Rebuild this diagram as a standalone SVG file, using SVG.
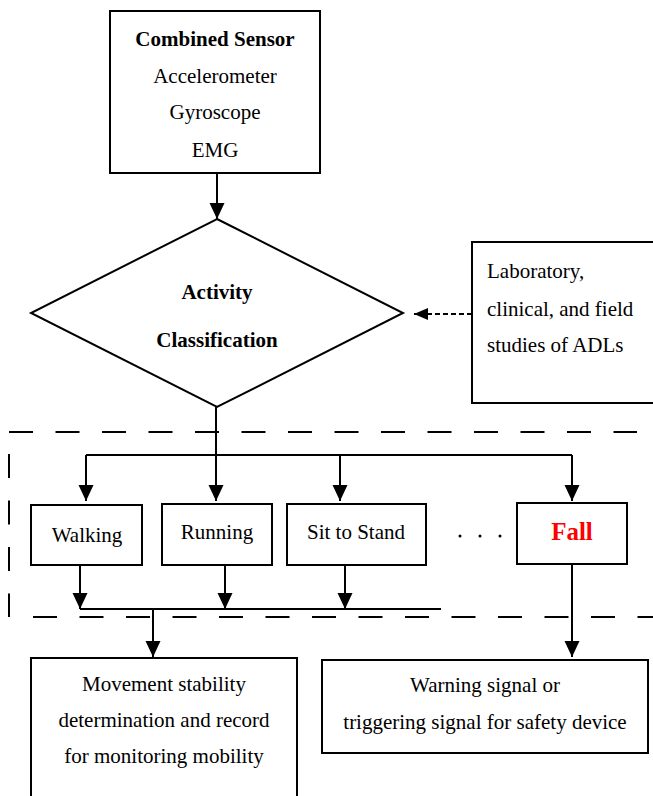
<svg xmlns="http://www.w3.org/2000/svg" width="653" height="796" viewBox="0 0 653 796">
<style>
  .box{fill:#fff;stroke:#000;stroke-width:2}
  .t{font-family:"Liberation Serif","Times New Roman",serif;font-size:21px;fill:#000}
  .c{text-anchor:middle}
  .b{font-weight:bold}
  .ln{fill:none;stroke:#000;stroke-width:2}
  .dash{fill:none;stroke:#000;stroke-width:2;stroke-dasharray:24 22.5}
</style>
<defs>
  <marker id="arr" viewBox="0 0 16 16" refX="16" refY="8" markerWidth="16" markerHeight="16" markerUnits="userSpaceOnUse" orient="auto">
    <path d="M0,0.5 L16,8 L0,15.5 Z" fill="#000"/>
  </marker>
  <marker id="arrs" viewBox="0 0 14 14" refX="14" refY="7" markerWidth="14" markerHeight="14" markerUnits="userSpaceOnUse" orient="auto">
    <path d="M0,1 L14,7 L0,13 Z" fill="#000"/>
  </marker>
</defs>
<rect width="653" height="796" fill="#fff"/>

<g id="boundary">
  <path class="dash" d="M9,432 H637"/>
  <path class="dash" d="M9,454 V617"/>
  <path class="dash" d="M33,617 H653"/>
</g>

<g id="connectors">
  <path class="ln" d="M217,173 V219" marker-end="url(#arr)"/>
  <path class="ln" d="M472,314 H414" stroke-dasharray="5 3" marker-end="url(#arrs)"/>
  <path class="ln" d="M216,407 V455"/>
  <path class="ln" d="M86,455 H572"/>
  <path class="ln" d="M86,455 V501" marker-end="url(#arr)"/>
  <path class="ln" d="M216,455 V501" marker-end="url(#arr)"/>
  <path class="ln" d="M340,455 V501" marker-end="url(#arr)"/>
  <path class="ln" d="M572,455 V501" marker-end="url(#arr)"/>
  <path class="ln" d="M80,565 V609" marker-end="url(#arr)"/>
  <path class="ln" d="M225,565 V609" marker-end="url(#arr)"/>
  <path class="ln" d="M345,565 V609" marker-end="url(#arr)"/>
  <path class="ln" d="M80,609 H441"/>
  <path class="ln" d="M153,609 V657" marker-end="url(#arr)"/>
  <path class="ln" d="M572,564 V657" marker-end="url(#arr)"/>
</g>

<g id="sensor">
  <rect class="box" x="110" y="11" width="210" height="162"/>
  <text class="t c b" x="215" y="46">Combined Sensor</text>
  <text class="t c" x="215" y="83">Accelerometer</text>
  <text class="t c" x="215" y="119">Gyroscope</text>
  <text class="t c" x="215" y="157">EMG</text>
</g>

<g id="classification">
  <polygon class="box" points="217,219 403,313 217,407 31,313"/>
  <text class="t c b" x="217" y="299">Activity</text>
  <text class="t c b" x="217" y="347">Classification</text>
</g>

<g id="studies">
  <rect class="box" x="472" y="242" width="190" height="161"/>
  <text class="t" x="487" y="278">Laboratory,</text>
  <text class="t" x="487" y="316">clinical, and field</text>
  <text class="t" x="487" y="352">studies of ADLs</text>
</g>

<g id="walking">
  <rect class="box" x="31" y="505" width="111" height="60"/>
  <text class="t c" x="87" y="542">Walking</text>
</g>
<g id="running">
  <rect class="box" x="162" y="504" width="110" height="61"/>
  <text class="t c" x="217" y="539">Running</text>
</g>
<g id="sitstand">
  <rect class="box" x="287" y="504" width="139" height="61"/>
  <text class="t c" x="356" y="539">Sit to Stand</text>
</g>
<g id="dots">
  <circle cx="460" cy="536" r="1.5" fill="#000"/>
  <circle cx="480" cy="536" r="1.5" fill="#000"/>
  <circle cx="500" cy="536" r="1.5" fill="#000"/>
</g>
<g id="fall">
  <rect class="box" x="517" y="503" width="110" height="61" stroke-width="2.5"/>
  <text class="t c b" x="572" y="540" style="font-size:25px;fill:#ff0000">Fall</text>
</g>

<g id="stability">
  <rect class="box" x="31" y="658" width="266" height="150"/>
  <text class="t c" x="164" y="691">Movement stability</text>
  <text class="t c" x="164" y="727">determination and record</text>
  <text class="t c" x="164" y="763">for monitoring mobility</text>
</g>

<g id="warning">
  <rect class="box" x="322" y="660" width="326" height="93"/>
  <text class="t c" x="485" y="692">Warning signal or</text>
  <text class="t c" x="485" y="729">triggering signal for safety device</text>
</g>
</svg>
